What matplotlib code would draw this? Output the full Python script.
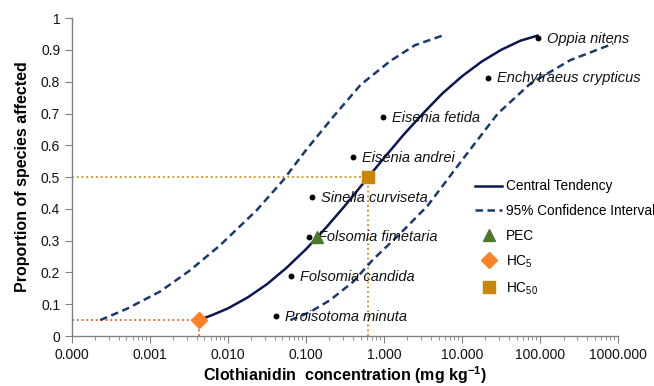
import numpy as np
import matplotlib
matplotlib.use('Agg')
import matplotlib.pyplot as plt
from matplotlib.ticker import FuncFormatter, LogLocator, FixedLocator

plt.rcParams['font.family'] = ['Liberation Sans', 'DejaVu Sans']
plt.rcParams['mathtext.fontset'] = 'custom'
plt.rcParams['mathtext.rm'] = 'Liberation Sans'
plt.rcParams['mathtext.it'] = 'Liberation Sans:italic'
plt.rcParams['mathtext.bf'] = 'Liberation Sans:bold'

# especies (concentracao mg/kg, proporcao)
especies = ['Proisotoma minuta', 'Folsomia candida', 'Folsomia fimetaria', 'Sinella curviseta',
            'Eisenia andrei', 'Eisenia fetida', 'Enchytraeus crypticus', 'Oppia nitens']
especies_x = [0.041, 0.065, 0.11, 0.12, 0.40, 0.98, 21.8, 93.0]
especies_y = [0.0625, 0.1875, 0.3125, 0.4375, 0.5625, 0.6875, 0.8125, 0.9375]

# curva central
central_x = [0.0042, 0.0063, 0.010, 0.0178, 0.0316, 0.056, 0.10, 0.178, 0.316, 0.63,
             1.0, 1.78, 3.16, 5.6, 10.0, 17.8, 31.6, 56.0, 93.0]
central_y = [0.05, 0.066, 0.087, 0.121, 0.163, 0.214, 0.273, 0.339, 0.41, 0.50,
             0.56, 0.633, 0.70, 0.763, 0.817, 0.863, 0.90, 0.929, 0.945]

# intervalo de confianca superior (esquerda)
ic_sup_x = [0.00023, 0.0005, 0.00135, 0.0032, 0.0079, 0.0234, 0.051, 0.10, 0.224, 0.5, 1.2, 2.5, 5.75]
ic_sup_y = [0.05, 0.085, 0.14, 0.205, 0.285, 0.396, 0.49, 0.585, 0.69, 0.79, 0.865, 0.915, 0.946]

# intervalo de confianca inferior (direita)
ic_inf_x = [0.063, 0.112, 0.204, 0.40, 0.72, 1.58, 3.63, 10.5, 28.8, 76.0, 245.0, 870.0]
ic_inf_y = [0.05, 0.075, 0.113, 0.17, 0.24, 0.32, 0.41, 0.56, 0.70, 0.795, 0.868, 0.92]

pec_x, pec_y = 0.14, 0.3125
hc5_x, hc5_y = 0.0042, 0.05
hc50_x, hc50_y = 0.63, 0.50

fig = plt.figure(figsize=(6.54, 3.86), dpi=100)
ax = fig.add_axes([0.110, 0.1295, 0.835, 0.8235])

# linhas de referencia pontilhadas
ax.plot([1e-4, hc5_x], [hc5_y, hc5_y], ':', color='#FF5a1e', lw=1.3, zorder=2)
ax.plot([hc5_x, hc5_x], [0, hc5_y], ':', color='#FF5a1e', lw=1.3, zorder=2)
ax.plot([1e-4, hc50_x], [hc50_y, hc50_y], ':', color='#D98B10', lw=1.3, zorder=2)
ax.plot([hc50_x, hc50_x], [0, hc50_y], ':', color='#D98B10', lw=1.3, zorder=2)

ax.plot(central_x, central_y, '-', color='#0B1655', lw=1.8, label='Central Tendency', zorder=3)
ax.plot(ic_sup_x, ic_sup_y, '--', color='#1B3A70', lw=1.8, dashes=(3, 1.8),
        label='95% Confidence Interval', zorder=3)
ax.plot(ic_inf_x, ic_inf_y, '--', color='#1B3A70', lw=1.8, dashes=(3, 1.8), zorder=3)

ax.plot(especies_x, especies_y, 'o', color='black', ms=3.2, zorder=4)
for nome, x, y in zip(especies, especies_x, especies_y):
    ax.annotate(nome, (x, y), xytext=(6.5, -0.5), textcoords='offset points',
                va='center', ha='left', fontsize=10.5, style='italic', color='#111111')

ax.plot(pec_x, pec_y, '^', color='#4C7A2C', ms=9, ls='none', label='PEC', zorder=5)
ax.plot(hc5_x, hc5_y, 'D', color='#FF8126', ms=8, ls='none', label='HC$_5$', zorder=5)
ax.plot(hc50_x, hc50_y, 's', color='#C8860A', ms=8, ls='none', label='HC$_{50}$', zorder=5)

ax.set_xscale('log')
ax.set_xlim(1e-4, 1e3)
ax.set_ylim(0, 1)
ax.xaxis.set_major_locator(FixedLocator([1e-4, 1e-3, 1e-2, 1e-1, 1, 10, 100, 1000]))
ax.xaxis.set_minor_locator(LogLocator(base=10, subs=np.arange(2, 10), numticks=20))
ax.xaxis.set_major_formatter(FuncFormatter(lambda v, p: '%.3f' % v))
ax.set_yticks(np.arange(0, 1.01, 0.1))
ax.yaxis.set_major_formatter(FuncFormatter(lambda v, p: '%g' % round(v, 1)))

for s in ['top', 'right']:
    ax.spines[s].set_visible(False)
for s in ['left', 'bottom']:
    ax.spines[s].set_color('#808080')
    ax.spines[s].set_linewidth(1.0)
ax.tick_params(axis='both', which='major', direction='out', length=5, color='#808080',
               labelsize=10, labelcolor='#111111')
ax.tick_params(axis='x', which='minor', direction='out', length=3, color='#808080')

ax.set_xlabel('Clothianidin  concentration (mg kg$^{\\mathbf{-1}}$)', fontsize=11.5,
              fontweight='bold', labelpad=2)
ax.set_ylabel('Proportion of species affected', fontsize=11.5, fontweight='bold', labelpad=8)

leg = ax.legend(loc='upper left', bbox_to_anchor=(0.738, 0.493), frameon=False, fontsize=9.8,
                handlelength=2.0, handletextpad=0.3, labelspacing=0.78, numpoints=1,
                borderaxespad=0, borderpad=0)

fig.savefig('out.png', dpi=100)
